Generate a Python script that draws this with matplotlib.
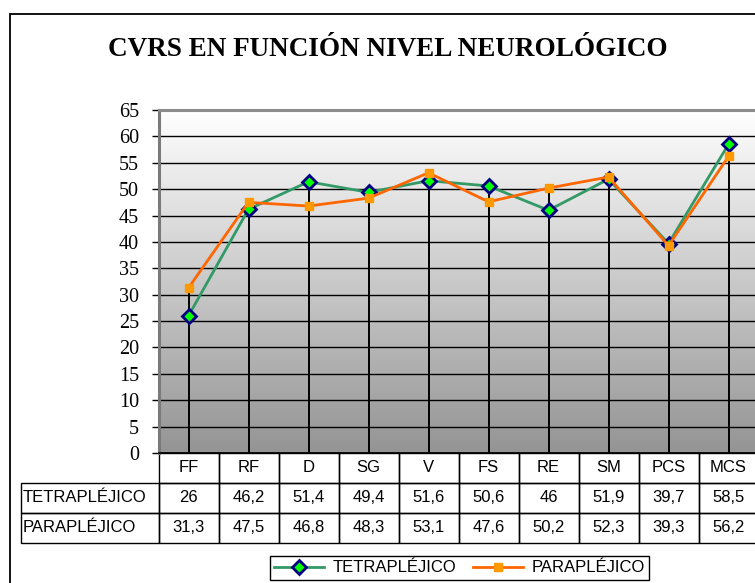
import numpy as np
import matplotlib
matplotlib.use("Agg")
import matplotlib.pyplot as plt
from matplotlib.colors import LinearSegmentedColormap
from matplotlib.table import Table
from matplotlib.patches import Rectangle
from matplotlib.lines import Line2D

# data
categories = ["FF", "RF", "D", "SG", "V", "FS", "RE", "SM", "PCS", "MCS"]
tetra = [26, 46.2, 51.4, 49.4, 51.6, 50.6, 46, 51.9, 39.7, 58.5]
para = [31.3, 47.5, 46.8, 48.3, 53.1, 47.6, 50.2, 52.3, 39.3, 56.2]
series_names = ["TETRAPLÉJICO", "PARAPLÉJICO"]
yticks = list(range(0, 70, 5))

W, H = 755, 583
fig = plt.figure(figsize=(W / 100, H / 100), dpi=100)

# axes placed in pixel terms (right edge runs past the picture, as in the source)
left, right, top, bottom = 158.5, 758.5, 110, 453
ax = fig.add_axes([left / W, 1 - bottom / H, (right - left) / W, (bottom - top) / H])

x = np.arange(len(categories))

# gradient background
cmap = LinearSegmentedColormap.from_list("bg", ["#949494", "#ffffff"])
grad = np.linspace(0, 1, 256).reshape(-1, 1)
ax.imshow(grad, extent=(-0.5, len(categories) - 0.5, 0, 65), aspect="auto",
          cmap=cmap, origin="lower", zorder=0)

ax.set_axisbelow(True)
ax.yaxis.grid(True, color="black", lw=1.0)
ax.vlines(x, 0, np.maximum(tetra, para), color="black", lw=1.4, zorder=2)

ax.plot(x, tetra, color="#339966", lw=2.0, marker="D", ms=7, mfc="#00ff00",
        mec="#000080", mew=2, zorder=3)
ax.plot(x, para, color="#ff6600", lw=2.0, marker="s", ms=6, mfc="#ff9900",
        mec="#ff9900", zorder=4)

ax.set_xlim(-0.5, len(categories) - 0.5)
ax.set_ylim(0, 65)
ax.set_yticks(yticks)
ax.tick_params(axis="y", direction="out", length=5, width=1, pad=9,
               labelsize=14.5, labelfontfamily="Liberation Serif")
ax.tick_params(axis="x", bottom=False, labelbottom=False)
ax.spines["right"].set_visible(False)
ax.spines["top"].set_color("#8c8c8c")
ax.spines["top"].set_linewidth(2.2)
ax.spines["left"].set_color("#7a7a7a")
ax.spines["left"].set_linewidth(2.2)
ax.spines["bottom"].set_color("black")
ax.spines["bottom"].set_linewidth(1.2)

# data table under the plot
label_w, col_w = 137.5, 60
tab_left, tab_bottom = 21, 543
tb = Table(ax, bbox=[(tab_left - left) / (right - left),
                     (bottom - tab_bottom) / (bottom - top),
                     (right - tab_left) / (right - left),
                     (tab_bottom - bottom) / (bottom - top)])
rows = [[""] + categories,
        [series_names[0]] + [f"{v:g}".replace(".", ",") for v in tetra],
        [series_names[1]] + [f"{v:g}".replace(".", ",") for v in para]]
for r, row in enumerate(rows):
    for c, txt in enumerate(row):
        w = label_w if c == 0 else col_w
        loc = "left" if c == 0 else "center"
        cell = tb.add_cell(r, c, width=w, height=1, text=txt, loc=loc,
                           facecolor="none", edgecolor="black")
        cell.set_linewidth(1.0)
        cell.get_text().set_fontfamily("Liberation Sans")
        cell.get_text().set_fontsize(12)
        if c == 0:
            cell.PAD = 0.012
        if r == 0 and c == 0:
            cell.visible_edges = ""
tb.auto_set_font_size(False)
tb.set_clip_on(False)
ax.add_table(tb)

# title
fig.text(388 / W, 1 - 49 / H, "CVRS EN FUNCIÓN NIVEL NEUROLÓGICO",
         ha="center", va="center", fontsize=19.5, fontweight="bold",
         family="Liberation Serif")

# legend
handles = [
    Line2D([], [], color="#339966", lw=2.0, marker="D", ms=7, mfc="#00ff00",
           mec="#000080", mew=2),
    Line2D([], [], color="#ff6600", lw=2.0, marker="s", ms=6, mfc="#ff9900",
           mec="#ff9900"),
]
leg = fig.legend(handles, series_names, loc="center", ncol=2,
                 bbox_to_anchor=(459.5 / W, 1 - 568 / H),
                 prop={"family": "Liberation Sans", "size": 12},
                 handlelength=3.0, handletextpad=0.5, columnspacing=1.0,
                 borderpad=0.25, frameon=True, fancybox=False, framealpha=1)
leg.get_frame().set_edgecolor("black")
leg.get_frame().set_linewidth(1.0)

# outer chart border (right/bottom parts fall outside the picture)
fig.add_artist(Rectangle((10 / W, -0.5), 2, 1.5 - 14 / H, transform=fig.transFigure,
                         fill=False, ec="black", lw=1.3))

fig.savefig("out.png", dpi=100)
